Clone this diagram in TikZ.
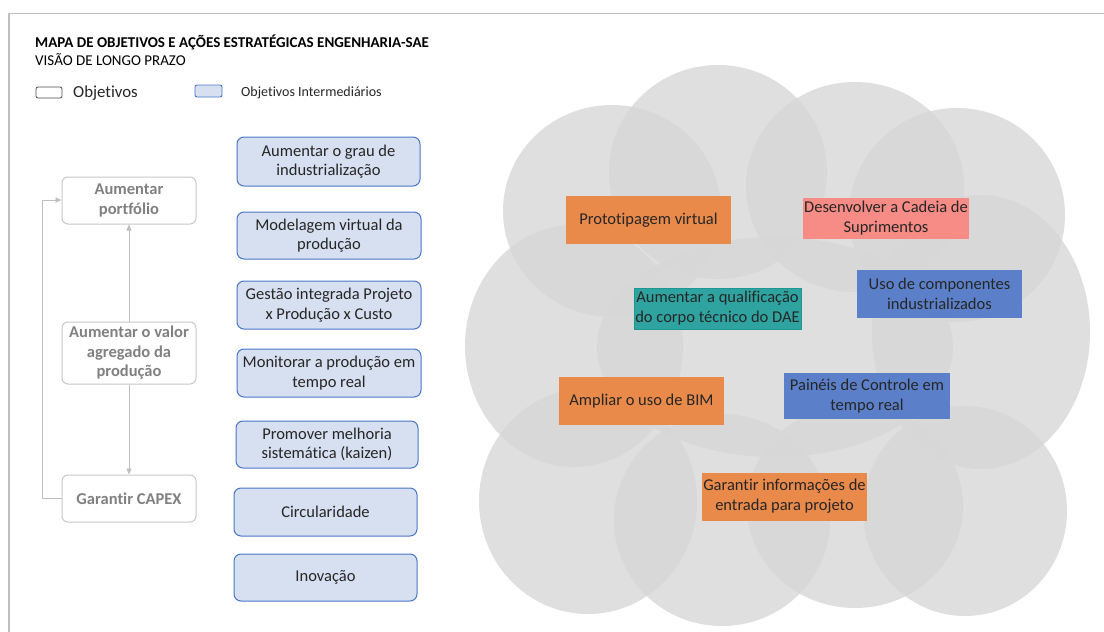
\documentclass[tikz,border=0pt]{standalone}
\usepackage{fontspec}
\setmainfont{Carlito}[Ligatures=NoCommon]
\usetikzlibrary{arrows.meta}
\definecolor{cloudgray}{RGB}{215,215,215}
\definecolor{framegray}{RGB}{191,191,191}
\definecolor{objgray}{RGB}{128,128,128}
\definecolor{objborder}{RGB}{200,200,200}
\definecolor{midfill}{RGB}{214,224,240}
\definecolor{midborder}{RGB}{74,118,201}
\definecolor{txtdark}{RGB}{38,38,38}
\definecolor{actorange}{RGB}{233,138,74}
\definecolor{actpink}{RGB}{247,139,133}
\definecolor{actteal}{RGB}{47,163,160}
\definecolor{tealedge}{RGB}{30,150,146}
\definecolor{actblue}{RGB}{91,128,201}
\tikzset{
  blob/.style={fill=cloudgray, fill opacity=0.8},
  objbox/.style={draw=objborder, line width=1pt, fill=white, rounded corners=6pt,
    align=center, text=objgray, font=\fontsize{16.5}{19.5}\selectfont\bfseries, inner sep=0pt},
  midbox/.style={draw=midborder, line width=1pt, fill=midfill, rounded corners=7pt,
    align=center, text=txtdark, font=\fontsize{16.5}{19.5}\selectfont, inner sep=0pt},
  actbox/.style={align=center, text=txtdark, font=\fontsize{16.5}{20}\selectfont, inner sep=0pt},
  link/.style={draw=framegray, line width=0.9pt, -{Triangle[length=6pt,width=5pt]}},
}
\begin{document}
\begin{tikzpicture}[x=1pt,y=-1pt]
\useasboundingbox (0,0) rectangle (1104,632);
\fill[white] (0,0) rectangle (1104,632);
% frame
\draw[framegray, line width=1.2pt] (9,632) -- (9,13.5) -- (1104,13.5);
% heading
\node[anchor=base west, inner sep=0pt, text=black, font=\fontsize{15}{18}\selectfont\bfseries] (title) at (35,47.5) {MAPA DE OBJETIVOS E AÇÕES ESTRATÉGICAS ENGENHARIA-SAE};
\node[anchor=base west, inner sep=0pt, text=black, font=\fontsize{15}{18}\selectfont] (subtitle) at (35,65.5) {VISÃO DE LONGO PRAZO};
% legend
\node[draw=black!70, line width=0.8pt, fill=white, rounded corners=2pt, minimum width=26pt, minimum height=11pt, inner sep=0pt] (legobj) at (49,92.5) {};
\node[anchor=base west, inner sep=0pt, text=txtdark, font=\fontsize{16.8}{20}\selectfont] (legobjtxt) at (73,97.5) {Objetivos};
\node[draw=midborder, line width=0.9pt, fill=midfill, rounded corners=2pt, minimum width=27pt, minimum height=12pt, inner sep=0pt] (legmid) at (208.5,91) {};
\node[anchor=base west, inner sep=0pt, text=txtdark, font=\fontsize{14}{17}\selectfont] (legmidtxt) at (241,96) {Objetivos Intermediários};
% objectives
\node[objbox, minimum width=134pt, minimum height=47pt] (port) at (129,200.5) {Aumentar\\portfólio};
\node[objbox, minimum width=134pt, minimum height=62pt] (valor) at (129,353) {Aumentar o valor\\agregado da\\produção};
\node[objbox, minimum width=134pt, minimum height=47pt] (capex) at (129,498.5) {Garantir CAPEX};
\draw[link] (valor.north) -- (port.south);
\draw[link] (valor.south) -- (capex.north);
\coordinate (loopbot) at (42,498.5);
\coordinate (looptop) at (42,200);
\draw[link] (capex.west) -- (loopbot) -- (looptop) -- (port.west |- looptop);
% intermediate objectives
\node[midbox, minimum width=183pt, minimum height=49pt] (m1) at (328.5,161.5) {Aumentar o grau de\\industrialização};
\node[midbox, minimum width=184pt, minimum height=47pt] (m2) at (329,235.5) {Modelagem virtual da\\produção};
\node[midbox, minimum width=184pt, minimum height=48pt] (m3) at (329,305) {Gestão integrada Projeto\\x Produção x Custo};
\node[midbox, minimum width=184pt, minimum height=48pt] (m4) at (329,373) {Monitorar a produção em\\tempo real};
\node[midbox, minimum width=182pt, minimum height=47pt] (m5) at (327,444.5) {Promover melhoria\\sistemática (kaizen)};
\node[midbox, minimum width=183pt, minimum height=48pt] (m6) at (325.5,512) {Circularidade};
\node[midbox, minimum width=183pt, minimum height=47pt] (m7) at (325.5,577.5) {Inovação};
% cloud of overlapping ellipses
\fill[blob] (612,211) ellipse [x radius=109pt, y radius=106pt];
\fill[blob] (718,172) ellipse [x radius=109pt, y radius=107pt];
\fill[blob] (855,187) ellipse [x radius=109pt, y radius=105pt];
\fill[blob] (957,215) ellipse [x radius=108pt, y radius=107pt];
\fill[blob] (574,346) ellipse [x radius=109pt, y radius=121pt];
\fill[blob] (775,347) ellipse [x radius=178pt, y radius=110pt];
\fill[blob] (981,332) ellipse [x radius=109pt, y radius=137pt];
\fill[blob] (588,501) ellipse [x radius=109pt, y radius=113pt];
\fill[blob] (722,520) ellipse [x radius=108pt, y radius=106pt];
\fill[blob] (855,506) ellipse [x radius=108pt, y radius=102pt];
\fill[blob] (965,511) ellipse [x radius=102pt, y radius=105pt];
% strategic actions
\node[actbox, fill=actorange, minimum width=165pt, minimum height=48pt] (a1) at (648.5,220) {Prototipagem virtual};
\node[actbox, fill=actpink, minimum width=166pt, minimum height=41pt] (a2) at (886,218.5) {Desenvolver a Cadeia de\\Suprimentos};
\node[actbox, fill=actteal, draw=tealedge, line width=0.8pt, minimum width=167pt, minimum height=41pt] (a3) at (717.5,308.5) {Aumentar a qualificação\\do corpo técnico do DAE};
\node[actbox, fill=actblue, minimum width=165pt, minimum height=48pt] (a4) at (939.5,294) {Uso de componentes\\industrializados};
\node[actbox, fill=actorange, minimum width=165pt, minimum height=48pt] (a5) at (641.5,401) {Ampliar o uso de BIM};
\node[actbox, fill=actblue, minimum width=166pt, minimum height=46pt] (a6) at (867,396) {Painéis de Controle em\\tempo real};
\node[actbox, fill=actorange, minimum width=165pt, minimum height=48pt] (a7) at (784.5,496.5) {Garantir informações de\\entrada para projeto};
\end{tikzpicture}
\end{document}
